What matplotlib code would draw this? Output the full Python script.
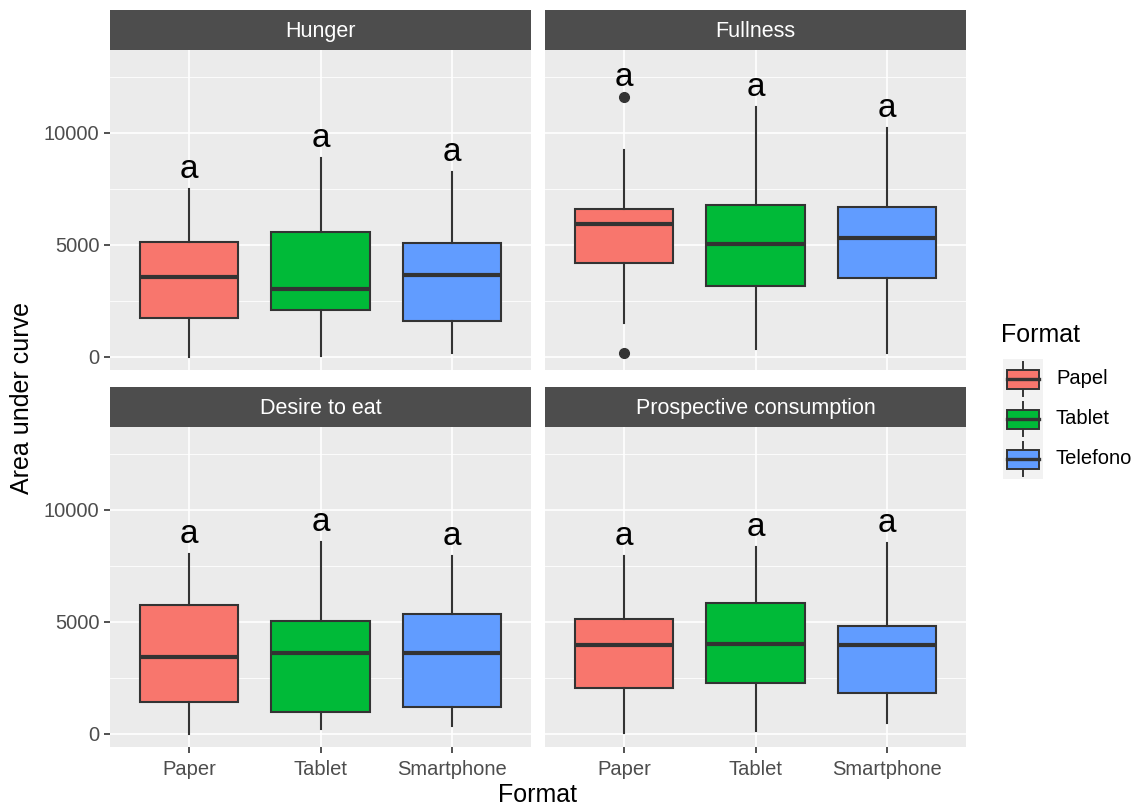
import numpy as np
import matplotlib
matplotlib.use("Agg")
import matplotlib.pyplot as plt
from matplotlib.patches import Rectangle

plt.rcParams['font.family'] = ['Liberation Sans', 'DejaVu Sans']

# Five-number summaries per format: [lower whisker, Q1, median, Q3, upper whisker]
formats = ['Paper', 'Tablet', 'Smartphone']
legend_labels = ['Papel', 'Tablet', 'Telefono']
colors = ['#F8766D', '#00BA38', '#619CFF']
panel_titles = ['Hunger', 'Fullness', 'Desire to eat', 'Prospective consumption']

hunger = [[0, 1740, 3560, 5130, 7470],
          [50, 2070, 3010, 5580, 8860],
          [180, 1590, 3630, 5060, 8260]]
fullness = [[1520, 4170, 5920, 6580, 9230],
            [330, 3170, 5030, 6760, 11130],
            [180, 3530, 5310, 6680, 10220]]
desire = [[0, 1400, 3440, 5760, 8040],
          [210, 970, 3590, 5050, 8560],
          [360, 1190, 3590, 5360, 7930]]
prospective = [[20, 2030, 3960, 5120, 7920],
               [110, 2280, 4020, 5820, 8330],
               [480, 1830, 3960, 4820, 8510]]

hunger_out = [[], [], []]
fullness_out = [[11610, 180], [], []]
desire_out = [[], [], []]
prospective_out = [[], [], []]

# compact letter display from the post-hoc test
hunger_letters = ['a', 'a', 'a']
fullness_letters = ['a', 'a', 'a']
desire_letters = ['a', 'a', 'a']
prospective_letters = ['a', 'a', 'a']

panel_data = [hunger, fullness, desire, prospective]
panel_out = [hunger_out, fullness_out, desire_out, prospective_out]
panel_letters = [hunger_letters, fullness_letters, desire_letters, prospective_letters]

W, H = 1139, 809
fig = plt.figure(figsize=(W / 100, H / 100), dpi=100)
fig.patch.set_facecolor('white')


def px_axes(x0, y0, x1, y1):
    # y measured from the top of the figure, in pixels
    return fig.add_axes([x0 / W, 1 - y1 / H, (x1 - x0) / W, (y1 - y0) / H])


dark = '#333333'
cols_x = [(110, 531), (545, 966)]
rows_y = [(50, 370), (427, 747)]
strip_h = 40

for i, title in enumerate(panel_titles):
    r, c = divmod(i, 2)
    x0, x1 = cols_x[c]
    y0, y1 = rows_y[r]
    ax = px_axes(x0, y0, x1, y1)
    ax.set_facecolor('#EBEBEB')

    stats = []
    for j, s in enumerate(panel_data[i]):
        stats.append(dict(whislo=s[0], q1=s[1], med=s[2], q3=s[3], whishi=s[4],
                          fliers=panel_out[i][j], label=formats[j]))
    bp = ax.bxp(stats, positions=[1, 2, 3], widths=0.75, patch_artist=True,
                showcaps=False,
                boxprops=dict(edgecolor=dark, linewidth=1.5),
                medianprops=dict(color=dark, linewidth=3.0, solid_capstyle='butt'),
                whiskerprops=dict(color=dark, linewidth=1.5),
                flierprops=dict(marker='o', markersize=7, markerfacecolor=dark,
                                markeredgecolor=dark))
    for patch, col in zip(bp['boxes'], colors):
        patch.set_facecolor(col)
    for j, s in enumerate(panel_data[i]):
        top = max([s[4]] + panel_out[i][j])
        ax.text(j + 1, top + 870, panel_letters[i][j], ha='center', va='center',
                fontsize=24, color='black')

    ax.set_xlim(0.4, 3.6)
    ax.set_ylim(-594, 13691)
    ax.set_yticks([0, 5000, 10000])
    ax.set_yticks([2500, 7500, 12500], minor=True)
    ax.set_xticks([1, 2, 3])
    ax.grid(True, which='major', color='white', linewidth=1.2)
    ax.grid(True, which='minor', axis='y', color='white', linewidth=0.6)
    ax.set_axisbelow(True)
    for sp in ax.spines.values():
        sp.set_visible(False)
    ax.tick_params(which='minor', length=0)
    ax.tick_params(which='major', length=4.5, width=1.2, color=dark,
                   labelsize=14.5, labelcolor='#4D4D4D', pad=3)
    ax.tick_params(axis='x', pad=5)
    if c == 0:
        ax.set_yticklabels(['0', '5000', '10000'])
    else:
        ax.tick_params(axis='y', length=0, labelleft=False)
    if r == 1:
        ax.set_xticklabels(formats)
    else:
        ax.tick_params(axis='x', length=0, labelbottom=False)

    strip = px_axes(x0, y0 - strip_h, x1, y0)
    strip.set_facecolor('#4D4D4D')
    strip.set_xticks([])
    strip.set_yticks([])
    for sp in strip.spines.values():
        sp.set_visible(False)
    strip.text(0.5, 0.46, title, ha='center', va='center', color='white',
               fontsize=15.5, transform=strip.transAxes)

fig.text(22 / W, 1 - 398 / H, 'Area under curve', rotation=90, ha='center',
         va='center', fontsize=18)
fig.text(538 / W, 1 - 795 / H, 'Format', ha='center', va='center', fontsize=18)

# legend with small boxplot glyphs
lg = px_axes(990, 310, 1139, 490)
lg.set_xlim(990, 1139)
lg.set_ylim(490, 310)
lg.axis('off')
lg.text(1001, 335, 'Format', ha='left', va='center', fontsize=18)
lg.add_patch(Rectangle((1003, 359), 40, 120, facecolor='#F2F2F2', edgecolor='none'))
for k, (lab, col) in enumerate(zip(legend_labels, colors)):
    cy = 379 + 40 * k
    lg.plot([1023, 1023], [cy - 17, cy + 17], color=dark, linewidth=1.4)
    lg.add_patch(Rectangle((1007, cy - 9.5), 32, 19, facecolor=col,
                           edgecolor=dark, linewidth=1.4, zorder=3))
    lg.plot([1007, 1039], [cy, cy], color=dark, linewidth=2.4, zorder=4)
    lg.text(1056, cy, lab, ha='left', va='center', fontsize=14.5)

fig.savefig('out.png', dpi=100)
